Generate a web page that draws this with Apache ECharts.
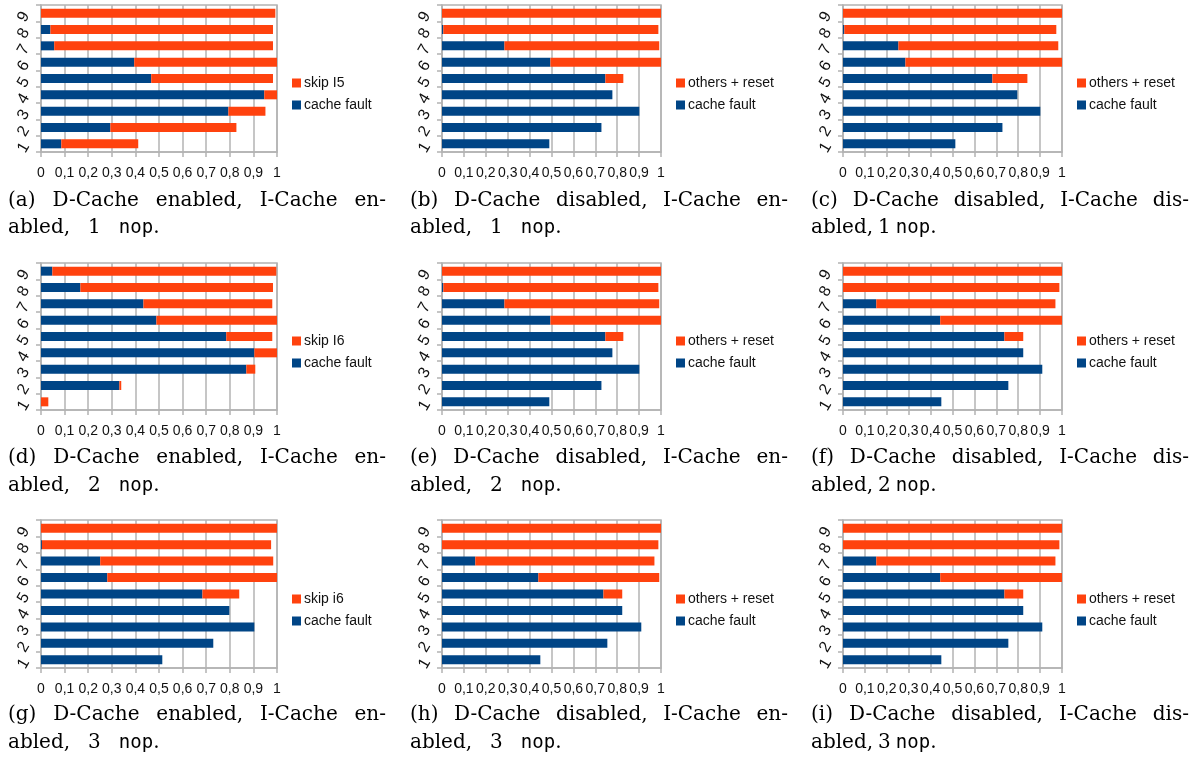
<!DOCTYPE html>
<html><head><meta charset="utf-8">
<script src="https://cdn.jsdelivr.net/npm/echarts@6/dist/echarts.min.js"></script>
<style>html,body{margin:0;padding:0;background:#fff}#c{width:1193px;height:761px}</style>
</head><body><div id="c"></div>
<script>
// ---------- data ----------
const categories = ['1','2','3','4','5','6','7','8','9'];
const xTickLabels = ['0','0,1','0,2','0,3','0,4','0,5','0,6','0,7','0,8','0,9','1'];

const faultA = [0.086, 0.294, 0.794, 0.946, 0.467, 0.395, 0.056, 0.040, 0.0];
const skipA  = [0.326, 0.534, 0.157, 0.054, 0.516, 0.605, 0.927, 0.943, 0.993];
const faultB = [0.490, 0.728, 0.901, 0.778, 0.746, 0.495, 0.285, 0.006, 0.0];
const otherB = [0, 0, 0, 0, 0.082, 0.505, 0.707, 0.982, 1.0];
const faultC = [0.513, 0.728, 0.901, 0.796, 0.682, 0.285, 0.253, 0.006, 0.0];
const otherC = [0, 0, 0, 0, 0.160, 0.715, 0.730, 0.968, 1.0];
const faultD = [0.0, 0.332, 0.870, 0.904, 0.785, 0.489, 0.434, 0.167, 0.048];
const skipD  = [0.031, 0.008, 0.038, 0.096, 0.195, 0.511, 0.546, 0.816, 0.949];
const faultE = [0.490, 0.728, 0.901, 0.778, 0.746, 0.495, 0.285, 0.006, 0.0];
const otherE = [0, 0, 0, 0, 0.082, 0.505, 0.707, 0.982, 1.0];
const faultF = [0.449, 0.755, 0.910, 0.823, 0.737, 0.444, 0.152, 0.0, 0.0];
const otherF = [0, 0, 0, 0, 0.086, 0.556, 0.818, 0.988, 1.0];
const faultG = [0.514, 0.730, 0.904, 0.798, 0.684, 0.281, 0.251, 0.004, 0.0];
const skipG  = [0, 0, 0, 0, 0.156, 0.719, 0.733, 0.971, 1.0];
const faultH = [0.449, 0.755, 0.910, 0.823, 0.737, 0.440, 0.152, 0.0, 0.0];
const otherH = [0, 0, 0, 0, 0.086, 0.552, 0.818, 0.988, 1.0];
const faultI = [0.449, 0.755, 0.910, 0.823, 0.737, 0.444, 0.152, 0.0, 0.0];
const otherI = [0, 0, 0, 0, 0.086, 0.556, 0.818, 0.988, 1.0];

const faultName = 'cache fault';
const secondNames = ['skip I5','others + reset','others + reset','skip I6','others + reset','others + reset','skip i6','others + reset','others + reset'];
const captions = [
  ['(a) D-Cache enabled, I-Cache en-', 'abled, 1 nop.'],
  ['(b) D-Cache disabled, I-Cache en-', 'abled, 1 nop.'],
  ['(c) D-Cache disabled, I-Cache dis-', 'abled, 1 nop.'],
  ['(d) D-Cache enabled, I-Cache en-', 'abled, 2 nop.'],
  ['(e) D-Cache disabled, I-Cache en-', 'abled, 2 nop.'],
  ['(f) D-Cache disabled, I-Cache dis-', 'abled, 2 nop.'],
  ['(g) D-Cache enabled, I-Cache en-', 'abled, 3 nop.'],
  ['(h) D-Cache disabled, I-Cache en-', 'abled, 3 nop.'],
  ['(i) D-Cache disabled, I-Cache dis-', 'abled, 3 nop.']
];
const faults = [faultA, faultB, faultC, faultD, faultE, faultF, faultG, faultH, faultI];
const seconds = [skipA, otherB, otherC, skipD, otherE, otherF, skipG, otherH, otherI];

// ---------- layout ----------
const BLUE = '#004586', RED = '#ff420e', GRIDC = '#b3b3b3';
const colLeft = [41, 442, 843];
const colWidth = [236, 219, 219];
const rowTop = [5, 263, 520];
const rowHeight = [147, 147, 148];
const legendLeft = [287, 671, 1072];
const legendTop = [71, 329, 587];
const capSpan1 = [[8,386],[410,788],[811,1189]];
const capX2 = [8, 410, 811];
const capGap2 = [18, 18, 5];
const capY = [[201,228],[458,486],[715,743]];

const SERIF = '20px "DejaVu Serif"';
const MONO = '19px "DejaVu Sans Mono"';
const ctx = document.createElement('canvas').getContext('2d');
function segs(word){ if (word === 'nop.') return [{t:'nop', f:MONO},{t:'.', f:SERIF}]; return [{t:word, f:SERIF}]; }
function measure(s){ ctx.font = s.f; return ctx.measureText(s.t).width; }
function place(words, widths, x0, gap, y, out){
  let x = x0;
  words.forEach((w,i) => {
    let sx = x;
    w.forEach(s => {
      out.push({type:'text', x:sx, y:y, silent:true,
        style:{text:s.t, font:s.f, fill:'#000', textVerticalAlign:'middle', verticalAlign:'middle'}});
      sx += measure(s);
    });
    x += widths[i] + gap;
  });
}
function prep(line){
  const words = line.split(' ').map(segs);
  const widths = words.map(w => w.reduce((a,s) => a + measure(s), 0));
  return [words, widths];
}
function justify(line, x0, x1, y, out){
  const [words, widths] = prep(line);
  const total = widths.reduce((a,b) => a + b, 0);
  const gap = words.length > 1 ? (x1 - x0 - total) / (words.length - 1) : 0;
  place(words, widths, x0, gap, y, out);
}
function leftLine(line, x0, gap, y, out){
  const [words, widths] = prep(line);
  place(words, widths, x0, gap, y, out);
}

const grids = [], xAxes = [], yAxes = [], series = [], legends = [], graphics = [];
for (let i = 0; i < 9; i++) {
  const r = Math.floor(i / 3), c = i % 3;
  grids.push({left: colLeft[c], top: rowTop[r], width: colWidth[c], height: rowHeight[r],
    show: true, borderColor: GRIDC, borderWidth: 1.5, backgroundColor: 'transparent'});
  xAxes.push({type:'value', gridIndex:i, min:0, max:1, interval:0.1,
    axisLine:{show:true, lineStyle:{color:GRIDC, width:1.5}},
    axisTick:{show:true, length:5, lineStyle:{color:GRIDC, width:1.5}},
    splitLine:{show:true, lineStyle:{color:GRIDC, width:1.5}},
    axisLabel:{color:'#111', fontSize:14, fontFamily:'Liberation Sans', margin:14,
      formatter: v => xTickLabels[Math.round(v * 10)]}});
  yAxes.push({type:'category', gridIndex:i, data:categories,
    axisLine:{show:true, lineStyle:{color:GRIDC, width:1.5}},
    axisTick:{show:true, length:5, lineStyle:{color:GRIDC, width:1.5}},
    splitLine:{show:false},
    axisLabel:{color:'#111', fontSize:16, fontFamily:'Liberation Sans', rotate:60, margin:15}});
  series.push({type:'bar', name:faultName, xAxisIndex:i, yAxisIndex:i, stack:'s'+i,
    data:faults[i], barWidth:9, itemStyle:{color:BLUE}, animation:false});
  series.push({type:'bar', name:secondNames[i], xAxisIndex:i, yAxisIndex:i, stack:'s'+i,
    data:seconds[i], barWidth:9, itemStyle:{color:RED}, animation:false});
  legends.push({left:legendLeft[c], top:legendTop[r], orient:'vertical', icon:'rect',
    itemWidth:9, itemHeight:9, itemGap:8, selectedMode:false,
    data:[secondNames[i], faultName],
    textStyle:{color:'#111', fontSize:14, fontFamily:'Liberation Sans', padding:[0,0,0,-2]}});
  justify(captions[i][0], capSpan1[c][0], capSpan1[c][1], capY[r][0], graphics);
  leftLine(captions[i][1], capX2[c], capGap2[c], capY[r][1], graphics);
}

const chart = echarts.init(document.getElementById('c'), null, {renderer:'canvas'});
chart.setOption({
  animation:false,
  backgroundColor:'#fff',
  grid:grids, xAxis:xAxes, yAxis:yAxes, series:series, legend:legends,
  graphic:graphics
});
</script>
</body></html>
